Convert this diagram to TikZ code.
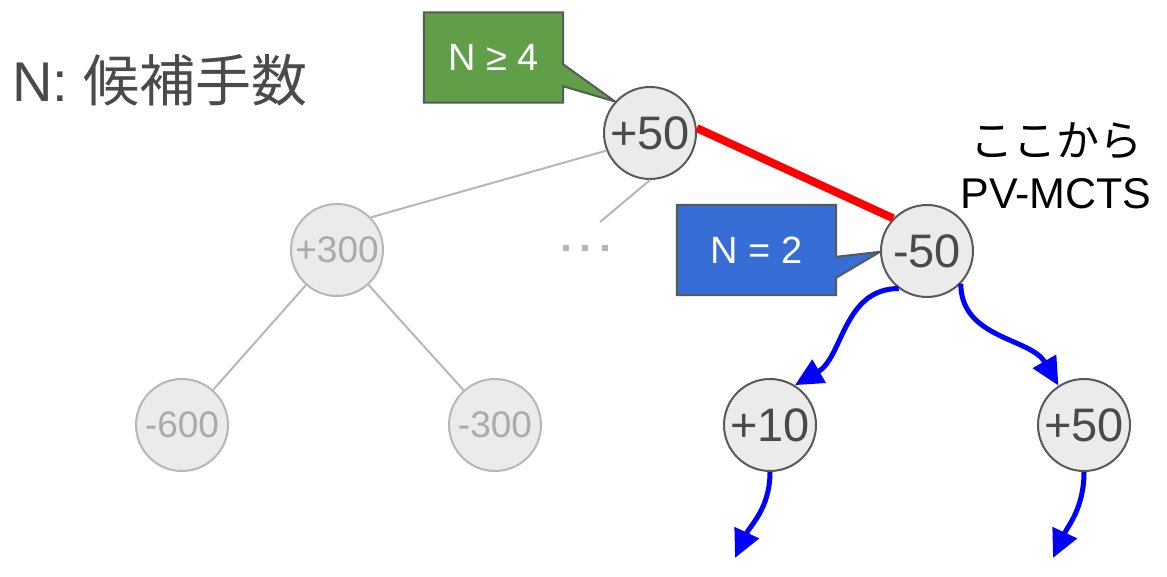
\documentclass[tikz,border=0pt]{standalone}
\usepackage{fontspec}
\setmainfont{Liberation Sans}
\newfontfamily\jpfont{Noto Sans CJK JP}
\usetikzlibrary{arrows.meta,backgrounds}
\definecolor{treeGray}{RGB}{235,235,235}
\definecolor{treeDark}{RGB}{89,89,89}
\definecolor{treeText}{RGB}{74,74,74}
\definecolor{fadeLine}{RGB}{183,183,183}
\definecolor{fadeText}{RGB}{170,170,170}
\definecolor{tagGreen}{RGB}{96,158,71}
\definecolor{tagBlue}{RGB}{54,110,213}

\begin{document}
\begin{tikzpicture}[
  x=1pt, y=1pt,
  state/.style={
    circle,
    draw=treeDark,
    line width=2pt,
    fill=treeGray,
    text=treeText,
    minimum size=92pt,
    inner sep=0pt,
    font=\fontsize{47}{50}\selectfont
  },
  faded/.style={
    state,
    draw=fadeLine,
    text=fadeText,
    font=\fontsize{37}{40}\selectfont
  },
  fadeedge/.style={fadeLine,line width=2pt},
  tag/.style={
    minimum height=90pt,
    inner sep=0pt,
    text=white,
    font=\fontsize{38}{40}\selectfont
  },
  tagline/.style={draw=treeDark,line width=2pt,line join=miter},
  search/.style={-{Triangle[length=28pt,width=26pt]},blue,line width=5pt}
]
  \useasboundingbox (0,0) rectangle (1167,-577);

  % tree
  \node[state] (root) at (650,-133) {+50};
  \node[faded] (p300) at (337,-250) {+300};
  \node[faded] (m600) at (182,-425) {-600};
  \node[faded] (m300) at (495,-425) {-300};
  \node[state] (m50) at (927,-251) {-50};
  \node[state] (p10) at (770,-425) {+10};
  \node[state] (p50) at (1084,-425) {+50};

  \coordinate (more) at (600,-222);
  \draw[fadeedge] (root.202) -- (p300.44);
  \draw[fadeedge] (root.south) -- (more);
  \draw[fadeedge] (p300) -- (m600);
  \draw[fadeedge] (p300) -- (m300);
  \foreach \dx in {566,585,605}
    \fill[fadeLine] (\dx-3,-251) rectangle ++(6,6);

  \draw[red,line width=8pt] (root.6) -- (m50.136);

  % search from -50
  \coordinate (leafa) at (735,-558);
  \coordinate (leafb) at (1053,-558);
  \draw[search] (m50.233) to[out=180,in=30] (p10.58);
  \draw[search] (m50.316) to[out=270,in=120] (p50.123);
  \draw[search] (p10.south) to[out=270,in=65] (leafa);
  \draw[search] (p50.south) to[out=270,in=65] (leafb);

  % callouts
  \node[tag,minimum width=139pt] (ntag) at (493.5,-57.5) {N ≥ 4};
  \node[tag,minimum width=159pt] (ktag) at (756.5,-250) {N = 2};
  \begin{scope}[on background layer]
    \draw[tagline,fill=tagGreen] (ntag.north west) -- (ntag.north east)
      -- ([yshift=-52pt]ntag.north east) -- (root.138)
      -- ([yshift=-74pt]ntag.north east) -- (ntag.south east)
      -- (ntag.south west) -- cycle;
    \draw[tagline,fill=tagBlue] (ktag.north west) -- (ktag.north east)
      -- ([yshift=-52pt]ktag.north east) -- (m50.181)
      -- ([yshift=-73pt]ktag.north east) -- (ktag.south east)
      -- (ktag.south west) -- cycle;
  \end{scope}

  % texts
  \node[anchor=base west,inner sep=0pt,text=treeText,
    font=\fontsize{56}{60}\selectfont] (legend) at (12,-102)
    {N: {\jpfont 候補手数}};
  \node[align=center,inner sep=0pt,font=\fontsize{43}{52}\selectfont]
    (start) at (1056,-166) {{\jpfont ここから}\\PV-MCTS};
\end{tikzpicture}
\end{document}
